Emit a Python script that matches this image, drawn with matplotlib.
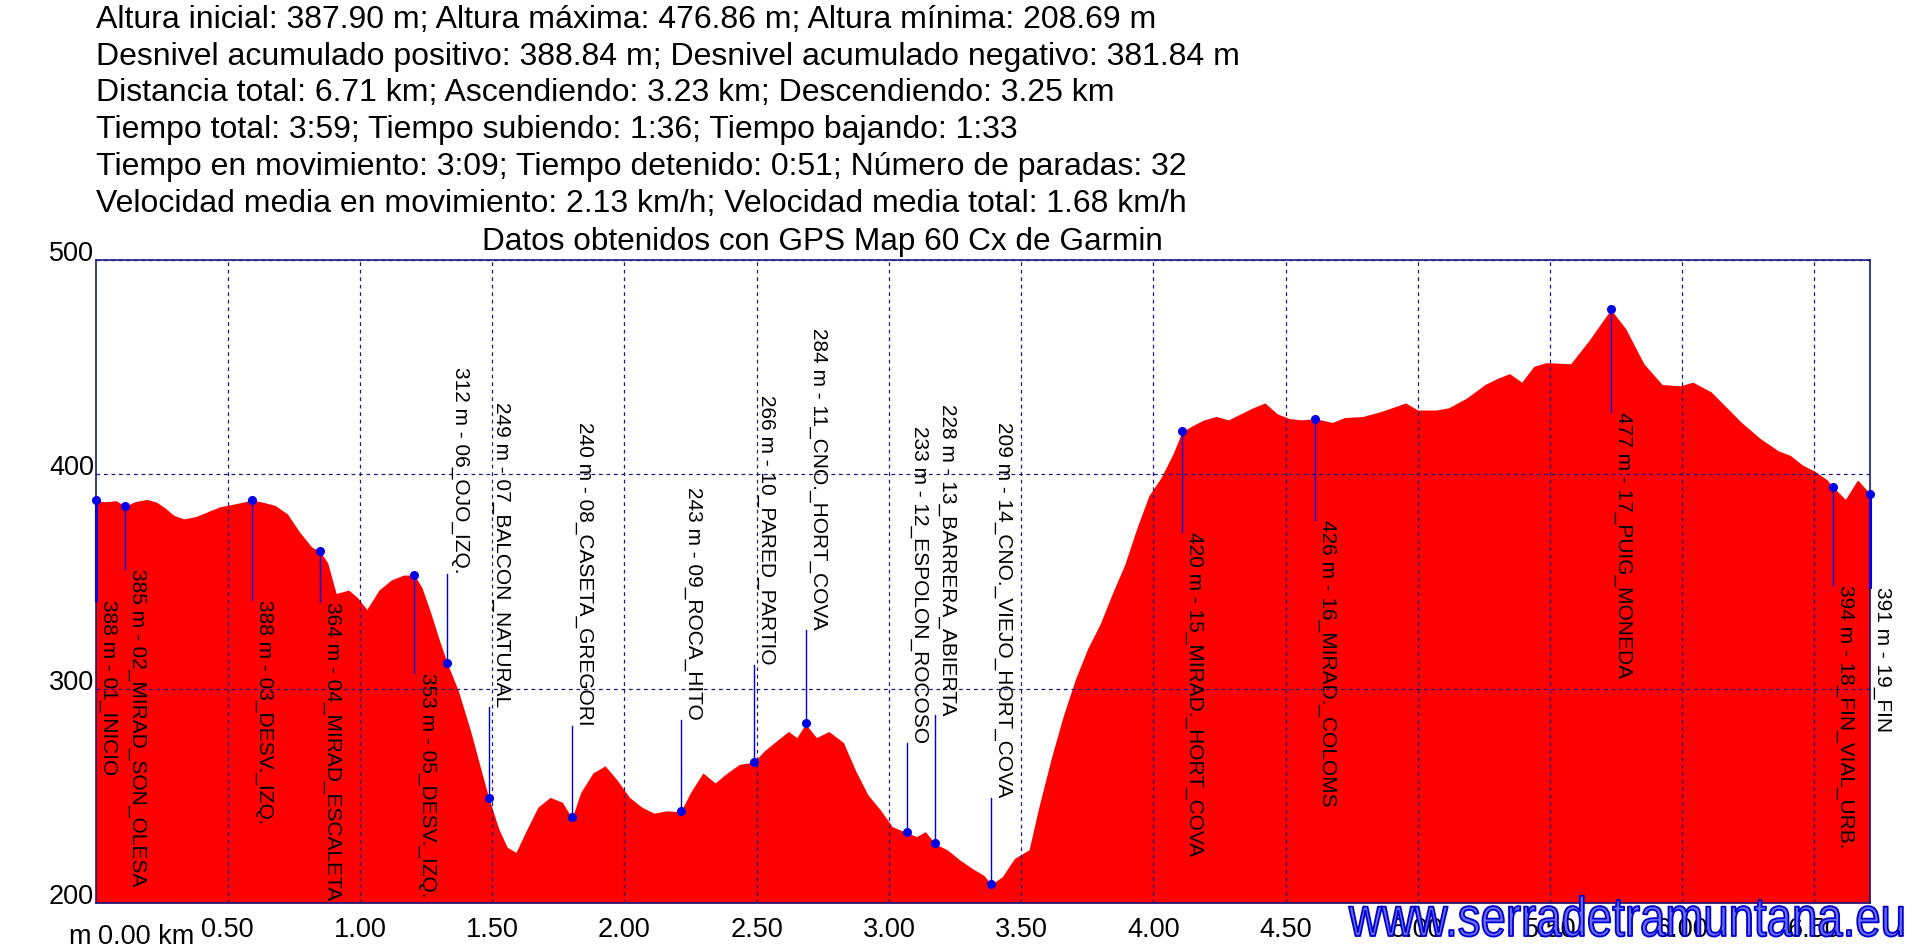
import matplotlib
matplotlib.use("Agg")
import matplotlib.pyplot as plt
import matplotlib.patheffects as pe
from matplotlib.transforms import ScaledTranslation, Affine2D
import numpy as np

plt.rcParams['font.family'] = ['Liberation Sans', 'DejaVu Sans']

# perfil: distancia (km) / altura (m)
dist = [0.000, 0.032, 0.079, 0.111, 0.148, 0.194, 0.231, 0.263, 0.296, 0.333,
        0.379, 0.425, 0.471, 0.518, 0.564, 0.592, 0.633, 0.679, 0.726, 0.772,
        0.818, 0.850, 0.878, 0.910, 0.957, 0.989, 1.026, 1.072, 1.118, 1.165,
        1.206, 1.234, 1.266, 1.303, 1.331, 1.372, 1.419, 1.456, 1.488, 1.525,
        1.557, 1.590, 1.627, 1.673, 1.719, 1.765, 1.802, 1.835, 1.881, 1.927,
        1.973, 2.019, 2.066, 2.112, 2.158, 2.213, 2.250, 2.297, 2.343, 2.389,
        2.435, 2.491, 2.528, 2.574, 2.620, 2.652, 2.685, 2.726, 2.773, 2.828,
        2.874, 2.921, 2.967, 3.013, 3.068, 3.105, 3.138, 3.175, 3.221, 3.267,
        3.314, 3.360, 3.387, 3.429, 3.475, 3.530, 3.567, 3.614, 3.660, 3.706,
        3.752, 3.799, 3.845, 3.891, 3.937, 3.983, 4.030, 4.076, 4.108, 4.145,
        4.191, 4.238, 4.284, 4.330, 4.376, 4.422, 4.469, 4.515, 4.561, 4.612,
        4.677, 4.723, 4.792, 4.861, 4.954, 5.000, 5.069, 5.116, 5.185, 5.254,
        5.300, 5.347, 5.393, 5.439, 5.485, 5.578, 5.647, 5.730, 5.786, 5.855,
        5.924, 5.993, 6.040, 6.109, 6.155, 6.224, 6.294, 6.363, 6.409, 6.455,
        6.502, 6.548, 6.571, 6.617, 6.663, 6.696, 6.710]
alt = [387.9, 387.2, 387.7, 385.0, 387.2, 388.3, 387.0, 384.3, 380.9, 379.2,
       380.3, 382.6, 384.9, 386.0, 387.2, 388.0, 387.0, 385.5, 381.5, 373.0,
       366.0, 364.0, 358.7, 344.4, 346.0, 342.7, 337.0, 346.0, 350.7, 353.0,
       353.0, 347.3, 336.0, 321.6, 311.6, 299.0, 280.0, 263.0, 248.7, 234.5,
       226.0, 223.6, 233.3, 244.7, 249.3, 247.0, 239.6, 251.6, 260.7, 264.0,
       257.3, 249.3, 244.7, 241.9, 243.0, 242.6, 251.6, 260.7, 256.0, 260.7,
       264.7, 265.8, 270.9, 275.5, 280.0, 277.2, 283.5, 277.2, 280.0, 274.9,
       261.8, 250.4, 243.6, 235.6, 232.8, 231.0, 233.3, 227.6, 224.8, 220.2,
       216.2, 212.8, 208.7, 212.3, 220.8, 224.8, 244.7, 267.5, 287.5, 304.6,
       318.8, 330.2, 344.4, 357.6, 374.6, 390.0, 398.6, 410.0, 419.7, 422.5,
       425.4, 427.0, 425.4, 428.2, 431.0, 433.3, 428.2, 426.0, 425.4, 426.0,
       424.2, 426.5, 427.0, 429.3, 433.3, 430.0, 430.0, 431.0, 435.6, 441.9,
       444.7, 447.0, 443.0, 450.4, 452.1, 451.6, 462.4, 476.9, 468.0, 451.6,
       441.9, 441.3, 443.0, 438.5, 432.8, 424.2, 416.8, 411.0, 408.8, 404.3,
       401.4, 397.4, 394.0, 388.3, 397.4, 392.9, 391.0]

# puntos de paso
wp_dist = [0.000, 0.111, 0.592, 0.850, 1.206, 1.331, 1.488, 1.802, 2.213, 2.491,
           2.685, 3.068, 3.175, 3.387, 4.108, 4.612, 5.730, 6.571, 6.710]
wp_alt = [388, 385, 388, 364, 353, 312, 249, 240, 243, 266,
          284, 233, 228, 209, 420, 426, 477, 394, 391]
wp_name = ["01_INICIO", "02_MIRAD_SON_OLESA", "03_DESV._IZQ.", "04_MIRAD_ESCALETA",
           "05_DESV._IZQ.", "06_OJO_IZQ.", "07_BALCON_NATURAL", "08_CASETA_GREGORI",
           "09_ROCA_HITO", "10_PARED_PARTIO", "11_CNO._HORT_COVA", "12_ESPOLON_ROCOSO",
           "13_BARRERA_ABIERTA", "14_CNO._VIEJO_HORT_COVA", "15_MIRAD._HORT_COVA",
           "16_MIRAD._COLOMS", "17_PUIG_MONEDA", "18_FIN_VIAL_URB.", "19_FIN"]
# altura donde empieza cada etiqueta
label_top = [341.6, 355.8, 341.6, 340.5, 307.4, 449.9, 433.9, 424.2, 394.0, 436.8,
             468.1, 422.5, 432.8, 424.2, 373.0, 378.6, 429.3, 348.4, 347.3]

header = [
    "Altura inicial: 387.90 m; Altura máxima: 476.86 m; Altura mínima: 208.69 m",
    "Desnivel acumulado positivo: 388.84 m; Desnivel acumulado negativo: 381.84 m",
    "Distancia total: 6.71 km; Ascendiendo: 3.23 km; Descendiendo: 3.25 km",
    "Tiempo total: 3:59; Tiempo subiendo: 1:36; Tiempo bajando: 1:33",
    "Tiempo en movimiento: 3:09; Tiempo detenido: 0:51; Número de paradas: 32",
    "Velocidad media en movimiento: 2.13 km/h; Velocidad media total: 1.68 km/h",
]
title = "Datos obtenidos con GPS Map 60 Cx de Garmin"


class Squeeze(pe.AbstractPathEffect):
    """Estrecha el texto en horizontal y le pone un contorno."""

    def __init__(self, sx, x0, edge, lw):
        super().__init__()
        self.sx, self.x0, self.edge, self.lw = sx, x0, edge, lw

    def draw_path(self, renderer, gc, tpath, affine, rgbFace=None):
        t = affine + Affine2D().translate(-self.x0, 0).scale(self.sx, 1).translate(self.x0, 0)
        renderer.draw_path(gc, tpath, t, rgbFace)
        gc0 = renderer.new_gc()
        gc0.copy_properties(gc)
        gc0.set_foreground(self.edge)
        gc0.set_linewidth(self.lw)
        renderer.draw_path(gc0, tpath, t, None)
        gc0.restore()


W, H = 1916, 951
fig = plt.figure(figsize=(W / 100, H / 100), dpi=100)
ax = fig.add_axes([95.5 / W, 1 - 903 / H, (1870 - 95.5) / W, (903 - 260) / H])

navy = "#1a1a80"
blue = "#0000e6"

ax.fill_between(dist, alt, 200, color="#ff0000", lw=0, zorder=1)
ax.set_xlim(0, 6.71)
ax.set_ylim(200, 500)

ax.set_xticks(np.arange(0.5, 6.6, 0.5))
ax.set_xticklabels(["%.2f" % v for v in np.arange(0.5, 6.6, 0.5)])
ax.set_yticks([200, 300, 400, 500])
ax.tick_params(length=0, labelsize=19.5, pad=10)
ax.tick_params(axis="y", pad=1)
for lab in ax.get_yticklabels():
    lab.set_transform(lab.get_transform() + ScaledTranslation(0, 0.09, fig.dpi_scale_trans))
ax.set_axisbelow(False)
ax.grid(True, color=navy, lw=0.9, linestyle=(0, (3, 3)))
for s in ax.spines.values():
    s.set_color(navy)
    s.set_linewidth(1.2)

# etiquetas de unidades del eje x
ax.text(-0.105, -0.033, "m", transform=ax.get_xaxis_transform(), ha="left", va="top",
        fontsize=19.5)
ax.text(0.01, -0.033, "0.00 km", transform=ax.get_xaxis_transform(), ha="left", va="top",
        fontsize=19.5)

labels = []
for d, a, n, top in zip(wp_dist, wp_alt, wp_name, label_top):
    t = ax.text(d + 0.012, top, "%d m - %s" % (a, n), rotation=270, rotation_mode="anchor",
                ha="left", va="bottom", fontsize=15, zorder=4)
    labels.append(t)

fig.canvas.draw()
inv = ax.transData.inverted()
for d, a, t in zip(wp_dist, wp_alt, labels):
    bb = t.get_window_extent()
    y_hi = inv.transform((0, bb.y1))[1]
    y_lo = inv.transform((0, bb.y0))[1]
    end = y_hi if a > y_hi else (y_lo if a < y_lo else a)
    lw = 2.2 if d in (0.0, 6.71) else 1.0
    ax.plot([d, d], [a, end], color=blue, lw=lw, zorder=3, clip_on=False)
ax.plot(wp_dist, wp_alt, "o", color=blue, ms=5.5, zorder=5, clip_on=False)

for i, line in enumerate(header):
    fig.text(96 / W, 1 - (20 + i * 36.7) / H, line, ha="left", va="center", fontsize=23)
fig.text(822 / W, 1 - 242 / H, title, ha="center", va="center", fontsize=22.7)

fig.text(1906 / W, 1 - 936 / H, "www.serradetramuntana.eu", ha="right", va="baseline",
         fontsize=40, color="#6a6aff",
         path_effects=[Squeeze(0.82, 1906, "#0000cc", 1.3)])

fig.savefig("out.png", dpi=100)
